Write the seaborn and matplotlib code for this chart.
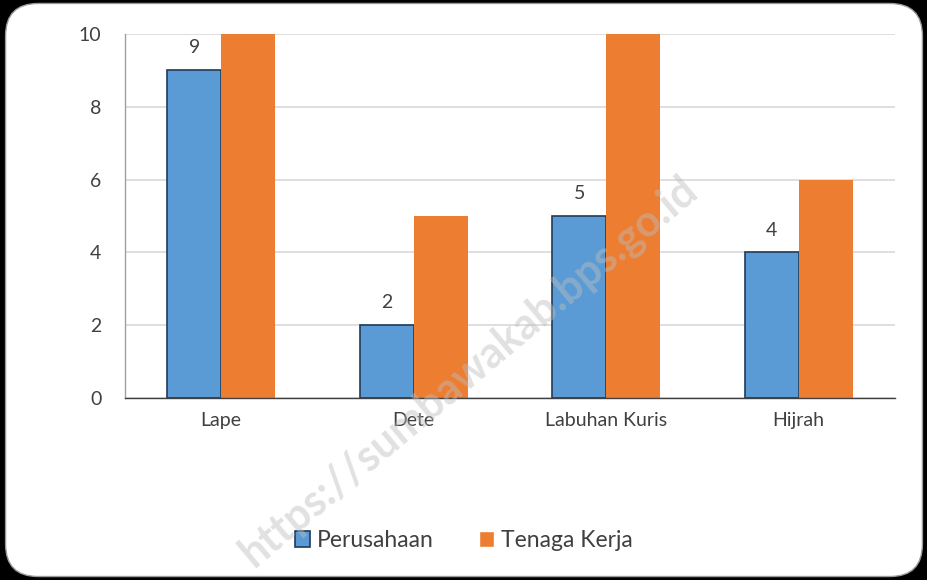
import matplotlib
matplotlib.use("Agg")
import matplotlib.pyplot as plt
import seaborn as sns
import pandas as pd
from matplotlib.patches import FancyBboxPatch

categories = ["Lape", "Dete", "Labuhan Kuris", "Hijrah"]
perusahaan = [9, 2, 5, 4]
tenaga_kerja = [10, 5, 10, 6]
series_names = ["Perusahaan", "Tenaga Kerja"]
y_ticks = [0, 2, 4, 6, 8, 10]

df = pd.DataFrame({
    "Kecamatan": categories * 2,
    "Jumlah": perusahaan + tenaga_kerja,
    "Kategori": [series_names[0]] * 4 + [series_names[1]] * 4,
})

sns.set_theme(style="white")
plt.rcParams["font.family"] = ["Lato", "DejaVu Sans"]

blue = "#5B9BD5"
orange = "#ED7D31"

fig = plt.figure(figsize=(9.28, 5.8), dpi=100)
fig.patch.set_facecolor("black")
bg = FancyBboxPatch((0.006, 0.006), 0.988, 0.988, boxstyle="round,pad=0,rounding_size=0.035",
                    transform=fig.transFigure, facecolor="white", edgecolor="#9a9a9a",
                    linewidth=1.0, zorder=-5, mutation_aspect=928/580)
fig.patches.append(bg)

ax = fig.add_axes([0.1347, 0.3138, 0.8297, 0.6276])
ax.set_zorder(1)
ax.set_facecolor("none")
sns.barplot(data=df, x="Kecamatan", y="Jumlah", hue="Kategori", palette=[blue, orange],
            width=0.56, ax=ax, legend=True, saturation=1)

for p in ax.containers[0]:
    p.set_edgecolor("#1f3b5a")
    p.set_linewidth(1.2)
for p in ax.containers[1]:
    p.set_edgecolor("none")

ax.bar_label(ax.containers[0], labels=[str(v) for v in perusahaan], padding=10,
             fontsize=14, color="#404040")

ax.set_ylim(0, 10)
ax.set_yticks(y_ticks)
ax.set_yticklabels([str(t) for t in y_ticks])
ax.set_xlim(-0.5, 3.5)
ax.yaxis.grid(True, color="#d9d9d9", linewidth=1.2)
ax.set_axisbelow(True)
ax.set_xlabel("")
ax.set_ylabel("")
ax.tick_params(axis="both", length=0, labelsize=14, labelcolor="#404040")
ax.tick_params(axis="y", pad=17)
ax.tick_params(axis="x", pad=10)
for s in ["top", "right"]:
    ax.spines[s].set_visible(False)
ax.spines["left"].set_color("#a0a0a0")
ax.spines["left"].set_linewidth(1.0)
ax.spines["bottom"].set_color("#404040")
ax.spines["bottom"].set_linewidth(1.0)

leg = ax.legend(loc="center", bbox_to_anchor=(0.5, 0.068), bbox_transform=fig.transFigure,
                ncol=2, frameon=False, fontsize=16.5, handlelength=0.65, handleheight=0.65,
                handletextpad=0.3, columnspacing=2.0, labelcolor="#404040")
handles = leg.legend_handles
handles[0].set_edgecolor("#1f3b5a")
handles[0].set_linewidth(1.2)

fig.text(0.505, 0.36, "https://sumbawakab.bps.go.id", rotation=40, fontsize=31,
         color="#bdbdbd", alpha=0.45, ha="center", va="center", fontweight="bold", zorder=10)

fig.savefig("out.png", dpi=100, facecolor=fig.get_facecolor())
